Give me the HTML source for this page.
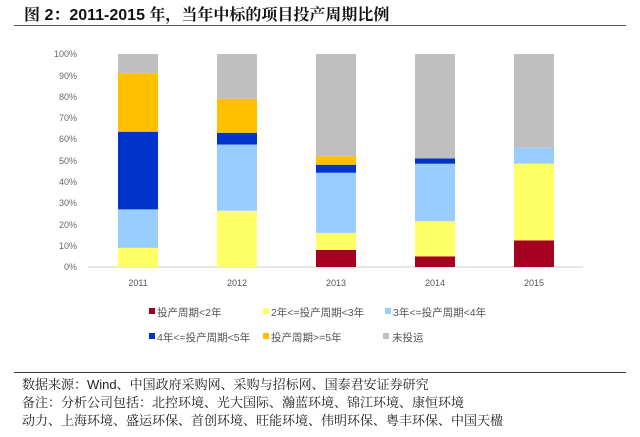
<!DOCTYPE html>
<html><head><meta charset="utf-8"><style>
body{margin:0;width:640px;height:437px;background:#fff;overflow:hidden;position:relative;font-family:"Liberation Sans","Noto Sans CJK SC",sans-serif}
.t{position:absolute;white-space:nowrap}
</style></head><body>
<div class="t" style="left:24px;top:2px;font-size:16px;font-weight:bold;color:#111;font-family:'Liberation Sans','Noto Serif CJK SC',serif">图 2：2011-2015 年，当年中标的项目投产周期比例</div>
<div style="position:absolute;left:14px;top:25px;width:612px;height:1px;background:#555"></div>
<svg width="640" height="437" style="position:absolute;left:0;top:0" font-family="Liberation Sans, sans-serif">
<g font-size="9" fill="#666" text-anchor="end">
<text x="77" y="270">0%</text><text x="77" y="249">10%</text><text x="77" y="228">20%</text><text x="77" y="206">30%</text><text x="77" y="185">40%</text><text x="77" y="164">50%</text><text x="77" y="142">60%</text><text x="77" y="121">70%</text><text x="77" y="100">80%</text><text x="77" y="79">90%</text><text x="77" y="57">100%</text>
</g>
<line x1="88" y1="267" x2="583" y2="267" stroke="#ccc"/>
<g id="bars"></g>
<g font-size="9" fill="#555" text-anchor="middle">
<text x="138" y="286">2011</text><text x="237" y="286">2012</text><text x="336" y="286">2013</text><text x="435" y="286">2014</text><text x="534" y="286">2015</text>
</g>
</svg>
<script>
var C=['#a50021','#ffff66','#99ccff','#0033cc','#ffc000','#bfbfbf'];
var D=[[0,9,18,36.5,27.5,9],[0,26.4,31.1,5.5,16,21],[8,8,28.3,3.7,4,48],[5,16.5,27,2.5,0,49],[12.5,36,7.5,0,0,44]];
var X=[118,217,316,415,514],s='';
D.forEach(function(d,i){var c=0;d.forEach(function(v,j){if(!v)return;var y1=267-(c+v)*2.13,h=v*2.13;s+='<rect x="'+X[i]+'" y="'+y1.toFixed(1)+'" width="40" height="'+h.toFixed(1)+'" fill="'+C[j]+'"/>';c+=v;});});
document.getElementById('bars').innerHTML=s;
</script>
<div class="t" style="left:0;top:0;font-size:10.5px;color:#555">
<span class="t" style="left:149px;top:308px;width:6px;height:6px;background:#a50021"></span><span class="t" style="left:157px;top:305px">投产周期&lt;2年</span>
<span class="t" style="left:263px;top:308px;width:6px;height:6px;background:#ffff66"></span><span class="t" style="left:271px;top:305px">2年&lt;=投产周期&lt;3年</span>
<span class="t" style="left:385px;top:308px;width:6px;height:6px;background:#99ccff"></span><span class="t" style="left:393px;top:305px">3年&lt;=投产周期&lt;4年</span>
<span class="t" style="left:149px;top:333px;width:6px;height:6px;background:#0033cc"></span><span class="t" style="left:157px;top:330px">4年&lt;=投产周期&lt;5年</span>
<span class="t" style="left:263px;top:333px;width:6px;height:6px;background:#ffc000"></span><span class="t" style="left:271px;top:330px">投产周期&gt;=5年</span>
<span class="t" style="left:383px;top:333px;width:6px;height:6px;background:#bfbfbf"></span><span class="t" style="left:392px;top:330px">未投运</span>
</div>
<div style="position:absolute;left:14px;top:372px;width:612px;height:1px;background:#333"></div>
<div class="t" style="left:22px;top:376px;font-size:13px;line-height:18px;color:#222;font-family:'Liberation Sans','Noto Serif CJK SC',serif">数据来源：Wind、中国政府采购网、采购与招标网、国泰君安证券研究<br>备注：分析公司包括：北控环境、光大国际、瀚蓝环境、锦江环境、康恒环境<br>动力、上海环境、盛运环保、首创环境、旺能环境、伟明环保、粤丰环保、中国天楹</div>
</body></html>
